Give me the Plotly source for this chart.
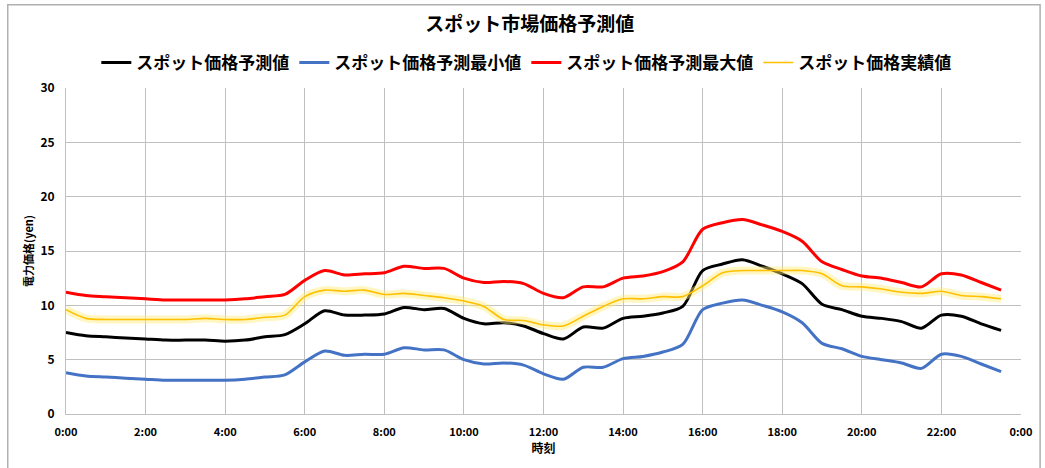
import plotly.graph_objects as go

TIMES = [i * 0.5 for i in range(48)]  # 0:00 .. 23:30 in hours
TICK_VALS = [0, 2, 4, 6, 8, 10, 12, 14, 16, 18, 20, 22, 24]
TICK_LABELS = ["0:00", "2:00", "4:00", "6:00", "8:00", "10:00", "12:00",
               "14:00", "16:00", "18:00", "20:00", "22:00", "0:00"]

forecast = [7.5, 7.2, 7.1, 7.0, 6.9, 6.8, 6.8, 6.8, 6.7, 6.8, 7.1, 7.3,
            8.3, 9.5, 9.1, 9.1, 9.2, 9.8, 9.6, 9.7, 8.8, 8.3, 8.4, 8.1,
            7.4, 6.9, 8.0, 7.9, 8.8, 9.0, 9.3, 9.9, 13.2, 13.8, 14.2, 13.6,
            12.9, 12.0, 10.1, 9.6, 9.0, 8.8, 8.5, 7.9, 9.1, 9.0, 8.3, 7.7]
forecast_min = [3.8, 3.5, 3.4, 3.3, 3.2, 3.1, 3.1, 3.1, 3.1, 3.2, 3.4, 3.6,
                4.8, 5.8, 5.4, 5.5, 5.5, 6.1, 5.9, 5.9, 5.0, 4.6, 4.7, 4.5,
                3.7, 3.2, 4.3, 4.3, 5.1, 5.3, 5.7, 6.4, 9.6, 10.2, 10.5, 10.0,
                9.4, 8.4, 6.5, 6.0, 5.3, 5.0, 4.7, 4.2, 5.5, 5.3, 4.6, 3.9]
forecast_max = [11.2, 10.9, 10.8, 10.7, 10.6, 10.5, 10.5, 10.5, 10.5, 10.6, 10.8, 11.0,
                12.3, 13.2, 12.8, 12.9, 13.0, 13.6, 13.4, 13.4, 12.5, 12.1, 12.2, 12.0,
                11.1, 10.7, 11.7, 11.7, 12.5, 12.7, 13.1, 14.0, 17.0, 17.6, 17.9, 17.4,
                16.8, 15.9, 14.0, 13.3, 12.7, 12.5, 12.1, 11.7, 12.9, 12.8, 12.1, 11.4]
actual = [9.6, 8.8, 8.7, 8.7, 8.7, 8.7, 8.7, 8.8, 8.7, 8.7, 8.9, 9.1,
          10.8, 11.4, 11.3, 11.4, 11.0, 11.1, 10.9, 10.7, 10.4, 9.9, 8.7, 8.6,
          8.2, 8.1, 9.0, 9.9, 10.6, 10.6, 10.8, 10.8, 11.8, 13.0, 13.2, 13.2,
          13.2, 13.2, 12.9, 11.8, 11.7, 11.5, 11.2, 11.1, 11.3, 10.9, 10.8, 10.6]

FONT = "Noto Sans CJK JP"

fig = go.Figure()

def add_line(y, name, color, width, show=True):
    fig.add_trace(go.Scatter(
        x=TIMES, y=y, name=name, mode="lines",
        line=dict(color=color, width=width, shape="spline", smoothing=0.8),
        showlegend=show, hoverinfo="skip" if not show else None))

add_line(forecast, "スポット価格予測値", "#000000", 3)
add_line(forecast_min, "スポット価格予測最小値", "#4472C4", 3)
add_line(forecast_max, "スポット価格予測最大値", "#FF0000", 3)
# glow under actual line
add_line(actual, "glow", "rgba(255,235,120,0.45)", 8, show=False)
add_line(actual, "スポット価格実績値", "#FFC000", 1.6)

fig.update_layout(
    width=1045, height=468,
    margin=dict(l=66, r=15, t=88, b=54),
    paper_bgcolor="white", plot_bgcolor="white",
    font=dict(family=FONT, color="#000000"),
    title=dict(text="<b>スポット市場価格予測値</b>", x=0.507, xanchor="center",
               y=0.947, yanchor="middle", font=dict(size=19, family=FONT)),
    legend=dict(orientation="h", x=0.482, xanchor="center", y=1.077, yanchor="middle",
                font=dict(size=17, family=FONT, weight="bold"),
                itemwidth=30, tracegroupgap=0),
    shapes=[dict(type="rect", xref="paper", yref="paper",
                 x0=-0.061, x1=1.02, y0=-0.17, y1=1.255,
                 line=dict(color="#b0b0b0", width=1.5), layer="below")],
)

fig.update_xaxes(
    range=[0, 24], tickvals=TICK_VALS, ticktext=TICK_LABELS,
    showgrid=True, gridcolor="#c0c0c0", gridwidth=1,
    showline=True, linecolor="#c0c0c0", mirror=False, zeroline=False,
    tickfont=dict(size=11, family=FONT, weight="bold"), ticks="",
    ticklabelstandoff=8,
    title=dict(text="<b>時刻</b>", font=dict(size=12, family=FONT), standoff=6),
)
fig.update_yaxes(
    range=[0, 30], tickvals=[0, 5, 10, 15, 20, 25, 30],
    showgrid=True, gridcolor="#c0c0c0", gridwidth=1,
    showline=True, linecolor="#c0c0c0", zeroline=False,
    tickfont=dict(size=12, family=FONT, weight="bold"), ticks="",
    ticklabelstandoff=8,
    title=dict(text="<b>電力価格(yen)</b>", font=dict(size=11, family=FONT), standoff=4),
)

fig.write_html("out.html")
